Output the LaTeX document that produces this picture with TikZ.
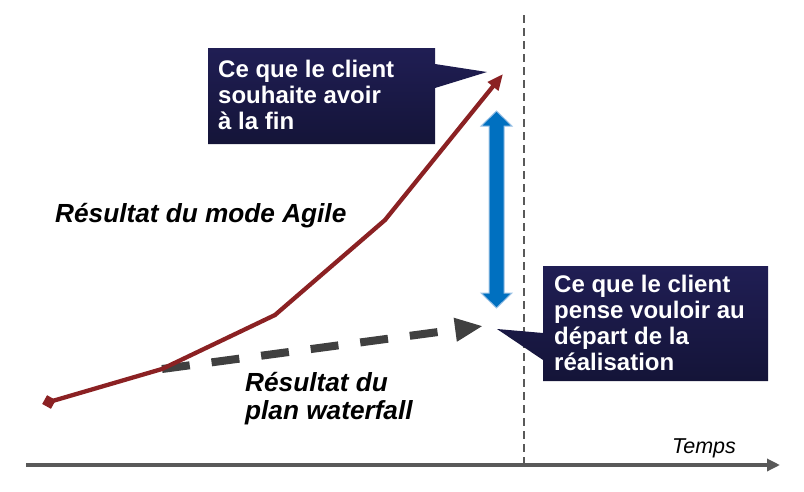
\documentclass[tikz,border=0pt]{standalone}
\usepackage{fontspec}
\setmainfont{Liberation Sans}
\usetikzlibrary{arrows.meta}
\definecolor{axisgray}{HTML}{595959}
\definecolor{dashgray}{HTML}{404040}
\definecolor{agilered}{HTML}{8B2123}
\definecolor{gapblue}{HTML}{0070C0}
\definecolor{gapedge}{HTML}{9DC3E6}
\definecolor{navytop}{RGB}{32,30,84}
\definecolor{navybot}{RGB}{20,20,56}
\tikzset{
  callout/.style={top color=navytop, bottom color=navybot, draw=none},
  callouttext/.style={text=white, font=\fontsize{24}{26}\selectfont\bfseries, align=left, inner sep=0pt, anchor=base west},
  label/.style={font=\fontsize{26.2}{27.5}\selectfont\bfseries\itshape, align=left, inner sep=0pt, anchor=base west},
}
\begin{document}
\begin{tikzpicture}[x=1pt,y=-1pt]
\useasboundingbox (0,0) rectangle (804,491);
% coordinates
\coordinate (ax0) at (26,465);
\coordinate (ax1) at (780,465);
\coordinate (v0) at (49,402);
\coordinate (v1) at (162,369);
\coordinate (v2) at (275,315);
\coordinate (v3) at (385,220);
\coordinate (v4) at (503,74);
\coordinate (w1) at (483,326);
\coordinate (d0) at (524,15);
\coordinate (d1) at (524,465);
% vertical dashed line
\draw[axisgray, line width=1.5pt, dash pattern=on 8pt off 5pt] (d0) -- (d1);
% axis
\draw[axisgray, line width=4pt, -{Triangle[length=13pt,width=12pt]}] (ax0) -- (ax1);
\node[font=\fontsize{21.5}{24}\selectfont\itshape, inner sep=0pt, anchor=base west] (temps) at (672,453) {Temps};
% waterfall dashed arrow
\draw[dashgray, line width=8pt, dash pattern=on 28pt off 22pt, -{Triangle[length=28pt,width=22pt]}] (v1) -- (w1);
% agile curve
\node[fill=agilered, minimum size=10pt, inner sep=0pt, rotate=61] (dm) at (v0) {};
\draw[agilered, line width=4.3pt, line join=miter, -{Triangle[length=16pt,width=13pt]}] (v0) -- (v1) -- (v2) -- (v3) -- (v4);
% blue double arrow
\path[fill=gapblue, draw=gapedge, line width=1pt]
  (496.5,111) -- (512,126) -- (504,126) -- (504,293) -- (512,293) -- (496.5,308)
  -- (481,293) -- (489,293) -- (489,126) -- (481,126) -- cycle;
% callout 1
\path[callout] (208,48) -- (435,48) -- (435,64) -- (487,72) -- (435,88) -- (435,144) -- (208,144) -- cycle;
\node[callouttext] (c1) at (218,129) {Ce que le client\\souhaite avoir\\à la fin};
% callout 2
\path[callout] (543,266) -- (768,266) -- (768,381) -- (543,381) -- (543,360) -- (497,329) -- (543,333) -- cycle;
\node[callouttext] (c2) at (554,370) {Ce que le client\\pense vouloir au\\départ de la\\réalisation};
% labels
\node[label] (agile) at (55,222) {Résultat du mode Agile};
\node[label] (wf) at (245,419) {Résultat du\\plan waterfall};
\end{tikzpicture}
\end{document}
